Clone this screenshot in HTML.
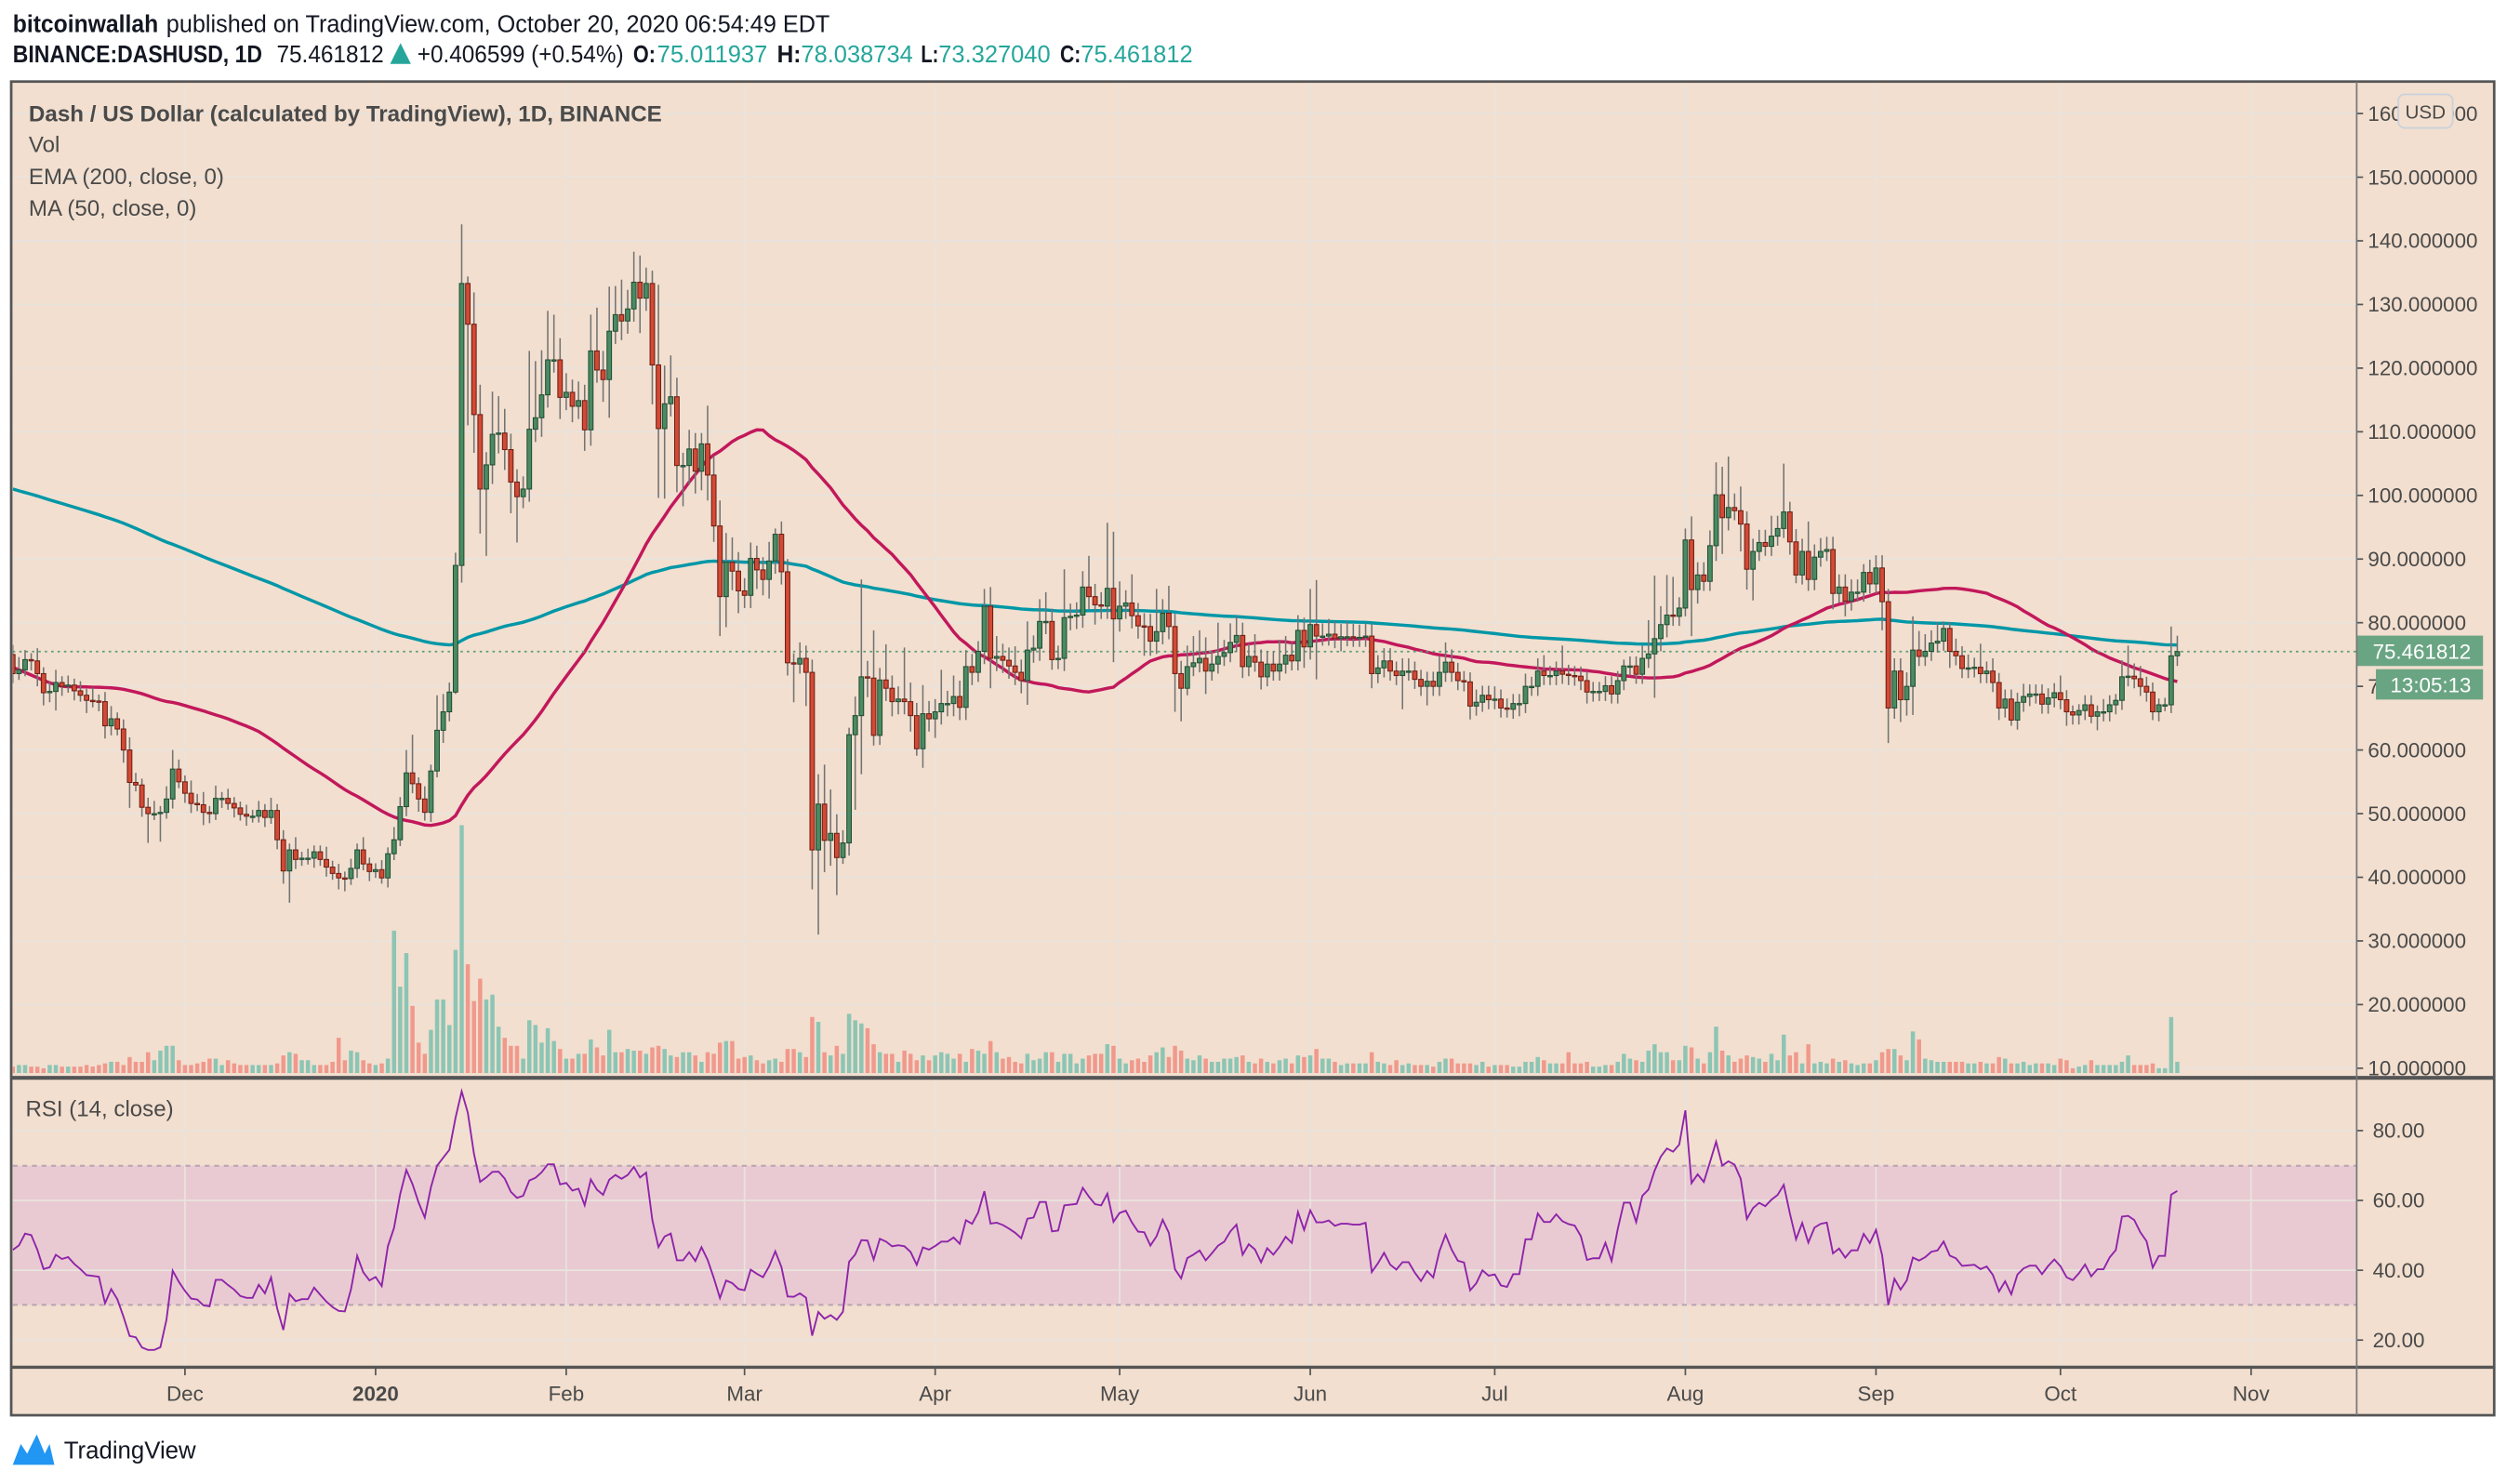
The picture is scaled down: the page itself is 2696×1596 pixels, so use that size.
<!DOCTYPE html>
<html><head><meta charset="utf-8"><title>DASHUSD chart</title>
<style>
html,body{margin:0;padding:0;background:#fff;}
svg{display:block;font-family:"Liberation Sans",sans-serif;}
</style></head>
<body>
<svg id="chart" xmlns="http://www.w3.org/2000/svg" width="2696" height="1596" viewBox="0 0 1568 928" preserveAspectRatio="none">
  <defs>
    <clipPath id="pricePane"><rect x="8" y="52" width="1466" height="621"/></clipPath>
    <clipPath id="rsiPane"><rect x="8" y="676" width="1466" height="178"/></clipPath>
  </defs>
  <rect x="0" y="0" width="1568" height="928" fill="#ffffff"/>
  <g>
    <text x="8" y="20" font-size="15" fill="#131722"><tspan font-weight="bold" textLength="91" lengthAdjust="spacingAndGlyphs">bitcoinwallah</tspan><tspan x="104" textLength="415" lengthAdjust="spacingAndGlyphs">published on TradingView.com, October 20, 2020 06:54:49 EDT</tspan></text>
    <g font-size="15">
      <text x="8" y="39" font-weight="bold" fill="#131722" textLength="156" lengthAdjust="spacingAndGlyphs">BINANCE:DASHUSD, 1D</text>
      <text x="173" y="39" fill="#131722" textLength="67" lengthAdjust="spacingAndGlyphs">75.461812</text>
      <polygon points="244,40 250.5,27 257,40" fill="#26a69a"/>
      <text x="261" y="39" fill="#131722" textLength="129" lengthAdjust="spacingAndGlyphs">+0.406599 (+0.54%)</text>
      <text x="396" y="39" font-weight="bold" fill="#131722" textLength="14" lengthAdjust="spacingAndGlyphs">O:</text>
      <text x="411" y="39" fill="#26a69a" textLength="69" lengthAdjust="spacingAndGlyphs">75.011937</text>
      <text x="486" y="39" font-weight="bold" fill="#131722" textLength="15" lengthAdjust="spacingAndGlyphs">H:</text>
      <text x="501" y="39" fill="#26a69a" textLength="70" lengthAdjust="spacingAndGlyphs">78.038734</text>
      <text x="576" y="39" font-weight="bold" fill="#131722" textLength="11" lengthAdjust="spacingAndGlyphs">L:</text>
      <text x="587" y="39" fill="#26a69a" textLength="70" lengthAdjust="spacingAndGlyphs">73.327040</text>
      <text x="663" y="39" font-weight="bold" fill="#131722" textLength="13" lengthAdjust="spacingAndGlyphs">C:</text>
      <text x="676" y="39" fill="#26a69a" textLength="70" lengthAdjust="spacingAndGlyphs">75.461812</text>
    </g>
  </g>
  <rect x="7" y="51" width="1553" height="834" fill="#f2dfcf"/>
  <rect x="8" y="729" width="1466" height="87" fill="#e9cad2"/>
  <g id="grid"></g>
  <line x1="8" y1="729" x2="1474" y2="729" stroke="#b9a2b2" stroke-width="1.2" stroke-dasharray="3,3"/>
  <line x1="8" y1="816" x2="1474" y2="816" stroke="#b9a2b2" stroke-width="1.2" stroke-dasharray="3,3"/>
  <g id="volume" clip-path="url(#pricePane)"></g>
  <g id="lines" clip-path="url(#pricePane)"></g>
  <g id="candles" clip-path="url(#pricePane)"></g>
  <g id="rsi" clip-path="url(#rsiPane)"></g>
  <g id="axes"></g>
  <g fill="#4a4a4a">
    <text x="18" y="76" font-size="14" font-weight="bold" textLength="396" lengthAdjust="spacingAndGlyphs">Dash / US Dollar (calculated by TradingView), 1D, BINANCE</text>
    <text x="18" y="95" font-size="14">Vol</text>
    <text x="18" y="115" font-size="14">EMA (200, close, 0)</text>
    <text x="18" y="135" font-size="14">MA (50, close, 0)</text>
    <text x="16" y="698" font-size="14">RSI (14, close)</text>
  </g>
  <g>
    <rect x="7" y="51" width="1553" height="834" fill="none" stroke="#555" stroke-width="1.6"/>
    <line x1="7" y1="674" x2="1560" y2="674" stroke="#555" stroke-width="2.4"/>
    <line x1="7" y1="855" x2="1560" y2="855" stroke="#555" stroke-width="2"/>
    <line x1="1474" y1="51" x2="1474" y2="885" stroke="#777" stroke-width="1"/>
  </g>
  <g>
    <path d="M8,916 L13,903 L17,909 L23,897 L28,909 L31,903 L34,916 Z" fill="#2196f3"/>
    <text x="40" y="912" font-size="15" fill="#131722">TradingView</text>
  </g>
</svg>
<script>
const preCloses = [92,94,95,93,90,88,86,82,74,70,68,69,70,68,66,67,68,67,66,65,64,66,67,66,65,64,66,67,66,65,64,66,68,67,68,70,69,68,70,73,80,82,79,77,78,76,77,76,75];
const closes = [
72,72.6,74.2,74,72,69,69.2,70.6,70,70.2,
69.3,68.6,67.8,67.7,67.6,63.8,64.9,63.3,60,54.9,
54.5,51,50,50,50.2,52.3,57,55,53.2,51.6,
51.4,50.2,50,52.4,52.4,51.6,50.9,49.9,49.6,49.6,
50.5,49.4,50.5,45.9,41,44.3,42.8,43,43,44,
42.8,41.6,40.6,39.9,39.8,41.4,44.3,42.1,40.9,41.2,
39.9,43.7,45.9,51.1,56.4,54.7,52.3,50.2,56.7,63.1,
66,69.1,89,133.3,126.9,112.7,101,104.8,109.6,109.8,
107.2,102.1,99.8,101,110.4,112.2,115.8,121.3,121.3,115.4,
116.2,114,114.9,110.3,122.7,119.7,118.2,125.8,128.4,127.4,
129.3,133.5,131,133.3,120.5,110.5,114.4,115.5,104.7,104.7,
107.3,103.8,108.1,103.2,95.2,84.1,89.5,88.1,85,84.3,
90.1,88.3,86.8,89.7,93.9,88,73.7,73.5,74.4,72.2,
44.3,51.5,45.8,46.9,43.1,45.4,62.4,65.4,71.5,71.3,
62.3,71,69.7,67.6,68,67.6,65.4,60.2,65.7,64.9,
66,67.3,67.3,68.4,66.7,73.1,72.2,75.5,82.6,74.4,
74.7,74.1,73.2,72.2,70.9,75.7,76,80.2,80.2,74.2,
74.4,80.8,81,81.2,85.6,84.1,82.8,82.6,85.4,80.6,
82.6,83.1,81.1,79.5,79.4,77.1,78.6,81.5,79.4,72,
69.7,73.1,73.7,74.4,72.4,73.5,74.7,75.3,76.9,78,
73.1,74.7,73.8,71.5,73.5,72.4,73.5,74.9,74,78.8,
76.2,79.7,77.9,77.9,78.2,77.5,77.8,77.8,77.7,77.7,
77.9,72,72.9,74,72.4,71.7,72.4,72.4,71.1,70,
70.8,70,72.2,73.8,72.2,70.9,70.7,66.9,67.5,68.6,
67.9,68,66.6,66.4,67.3,67.3,70,70,72.4,71.7,
71.7,72.4,71.9,71.7,71.6,70.9,69.1,69.2,69.2,70.1,
68.8,70.9,73.2,73.2,71.9,74.4,75.1,77.5,79.7,81.2,
81,82.3,93,85.2,87.5,86.5,92.1,100.1,96.5,98.1,
97.6,95.5,88.4,91.2,92.6,92,93.6,94.8,97.4,92.7,
87.5,91.2,86.8,90.3,91.2,91.5,84.6,85.6,83.4,84.8,
84.8,87.9,86.1,88.6,83.3,66.6,72.4,67.9,70,75.7,
74.7,75.5,76.8,77.1,79.1,75.5,74.8,72.8,72.9,73,
72,72.4,70.6,66.6,68,64.7,67.5,68.4,68.8,68.8,
67.2,68.2,69,67.9,66,65.5,66.2,67.1,65.3,66,
66,67.1,67.8,71.5,71.6,71.2,70,69.1,66,67.1,
67.1,74.8,75.46];
const upperWick = [
1.5,2,1.5,1,2,1,1.5,2,1,1.5,
1,1.5,1,2,1,1.5,2,1,1.5,2,
1.5,1,1.5,2,1,2,3,1.5,1,2,
1.5,2,1,2,1,1.5,1,1,1.5,1,
1.5,1,2,1,1.5,1,2,1,1.5,1,
1,2,1,1.5,1,1.5,1,2,1,1,
1.5,1,2,1.5,3.6,6,1,2,1,5.5,
2.8,1.5,2,9.3,1.1,5,4.7,2,6.7,5.8,
3.8,2.5,2,2,12.3,8.9,7,7.7,7.1,3.4,
3,2,3,2.5,5.7,6.8,3,7,4.5,5.5,
3,4.8,4.2,2.5,2,12.6,6,6.5,3,2,
3,2.5,1.7,6,3,4,4.6,3.9,3,2,
2.5,2,2,3,0.9,2,2,1.5,2.5,2,
2,4.7,6.2,6.9,3,2,1.1,3,15.3,2.5,
7.5,1.9,5.6,2,2,8.1,3,2,4.5,2,
2,5.3,2,3.3,2.5,2.6,2,1.6,2.7,3,
3.2,2,2,3.1,2,4.5,2,3.5,4.6,2,
2,7.6,2,2,2.5,4.9,2,2,10.3,8.9,
3.9,2,4.5,2,2,2,6.7,2.2,4.3,2,
2,3.3,4.2,4.4,3.3,2,5.3,2,3,3,
2,2,3.5,2,2,2,3.8,3,2,2.4,
2,5.6,7,2,2.4,2,2,2.4,2,2,
2,2,2,2,2,1.5,2,2,1.5,1.5,
1.5,1.5,2.6,3.1,2,1.5,1.5,1.5,2,1.5,
1.5,2,1.5,1.5,1.5,1.5,2,1.5,2,2.5,
1.5,1.5,4,1.5,1.5,1.5,1.5,1.5,1.5,1.5,
1.5,1.5,1,1.5,1.5,2,5.3,9.9,2.9,6.3,
6,1.7,1.8,3.7,2,2,2.4,5.1,4.4,8,
2.2,3.8,2,2,2,2,3.2,2,7.6,1.6,
2,2,4.7,2,2.1,2,2,2,2,2,
2,1.3,2,2,2,2,2,2,2.2,5.3,
3,2.7,2,2.9,1.1,1,2,1.5,2.1,1.5,
3.7,1.5,2,1.5,1.5,1.5,1.5,2,1.5,1.5,
1.5,1.5,1.5,2.7,1.5,1,1,1.5,1.5,1,
2,1.5,1,2.6,4.8,2,2,1.5,1.5,1,
1.1,4.6,2.5];
const lowerWick = [
1.5,1,1,1.5,2,2,1.5,3,1.5,1,
1.5,1,2,1,1.5,2,1.5,1,2,4,
1,1.5,4.6,1,4.4,1,1.5,1,1.5,1.5,
1,2,1.5,1,1.5,1,1.5,1,1.5,1,
1,1.5,1,1.5,2,5,1.5,1,1,1.5,
1,1.5,1,1.8,2,1,1.5,1,1.5,1,
0.9,1.5,1,1,1.5,1.5,2,1.3,1.5,1,
2,1.5,0.3,2.7,15.9,6,7,10.5,3,3,
3.2,4.9,7.2,1.8,2,2,3,2,2,3.4,
2,2.5,2,3.3,2.5,2,3.5,6,2,3,
2,2,5.5,2,6.2,10.9,11,2,4.2,6.4,
3,3.5,3,4,2.5,6.2,4.8,3,3.5,2,
2,3,2.5,3,2,2,2,6,1.5,5.3,
6.2,13.3,5,4,5.9,1,2,11.8,9.2,3,
1.6,1.5,2,2.3,2,2,2.5,1.1,3,2,
3,2,2,2,2,2,2,1.5,2,4.7,
2,2,2,2,2,3.8,2,2,2,1.6,
1.5,2,2,2,2,2,3.1,2,2,6.8,
2,2,2,2,4.6,2.3,2,2,2,6,
5.2,1.1,1.5,1.5,3.6,1.5,1.5,1.5,1.5,1.5,
1.8,1.5,1.5,2,1.5,1.5,1.5,1.5,1.5,1.5,
3.3,2,6.8,1.5,1.5,1.5,2,1.5,1.5,1.5,
1.5,2.3,1.5,1.5,1.5,1.5,5.3,1.5,1.5,1.5,
3,1.5,1.5,1.5,1.5,1.5,1.5,2.1,1.5,1.5,
1.5,1.5,1.5,1.3,1.5,2,1.5,1.5,1.5,1.5,
1.5,1.5,1.5,1.5,1.5,1.5,1.8,1.5,1.5,1.5,
1.5,1.5,1.5,1.5,1.5,1.5,1.5,6.9,2,2,
1.5,1.5,1.3,7.3,2.2,1.5,1.5,2.4,5.7,2,
1.5,4.3,3.2,4.9,1.5,1.5,1.5,1.5,1.5,2,
1.3,1.5,1.8,1.7,1.5,1.5,2.5,1.5,2.4,1.5,
1.5,1.5,1.5,1.5,4.5,5.5,1.7,3.5,2.5,4.5,
1.5,1.5,1.5,1.5,1.5,2.6,1.5,1.5,1.5,1.5,
1.5,1.5,1.5,1.9,1.5,0.9,1.5,1.5,1.5,1.5,
1.5,1.5,1.5,1.5,2.2,1.5,1.5,1.5,1.1,2.2,
1.5,1.5,1.5,1.5,1.5,1.5,1.5,1.5,1.3,1.5,
1,1.3,1.6];
const volumes = [
4,5,5,4,4,3,5,5,4,4,
4,4,5,4,5,6,7,7,5,10,
7,7,13,8,14,17,17,8,5,5,
6,7,9,9,5,8,6,5,5,5,
5,5,5,6,11,13,12,8,8,5,
5,5,7,22,8,14,13,8,6,5,
6,9,89,54,75,42,19,12,27,46,
46,30,77,155,68,45,59,46,49,29,
22,17,17,9,33,30,19,28,20,15,
9,9,12,12,21,16,11,27,13,13,
15,14,14,12,16,17,15,11,10,13,
13,11,7,13,12,19,20,20,9,10,
11,8,6,8,9,7,15,15,13,10,
35,32,13,11,17,12,37,33,31,28,
18,13,12,12,7,14,12,8,11,8,
11,13,12,9,12,7,15,14,12,20,
13,9,10,7,6,12,8,9,13,13,
7,12,12,6,9,11,12,12,18,17,
9,6,8,9,7,11,13,16,10,17,
14,9,8,11,9,7,7,9,9,10,
11,7,6,9,7,6,8,9,6,11,
10,11,15,9,9,7,5,6,6,6,
6,13,7,6,5,8,5,6,5,5,
5,4,7,9,9,6,6,6,5,7,
4,5,5,5,4,4,7,7,10,8,
6,6,6,13,6,6,7,4,4,5,
5,7,12,9,8,7,14,18,13,13,
8,8,17,16,9,6,13,29,14,11,
7,9,11,10,9,7,12,8,24,11,
13,6,18,6,7,6,9,7,8,6,
5,6,6,8,13,15,15,11,8,26,
21,9,8,7,7,7,7,7,6,6,
7,6,6,10,9,6,6,7,5,6,
6,6,5,9,8,3,4,5,8,5,
5,5,5,7,11,5,5,5,6,3,
3,35,7];
const emaStart = 101;
const priceTicks = [160,150,140,130,120,110,100,90,80,70,60,50,40,30,20,10];
const rsiTicks = [80,60,40,20];
const monthLabels = ["Dec","2020","Feb","Mar","Apr","May","Jun","Jul","Aug","Sep","Oct","Nov"];
const monthDays = [28,59,90,119,150,180,211,241,272,303,333,364];
const lastPriceLabel = "75.461812";
const countdownLabel = "13:05:13";

const NS = "http://www.w3.org/2000/svg";
const xOf = i => 8 + i * 3.846;
const yP = p => 668 - (p - 10) * 3.98;
const yV = v => 671 - v;
const yR = r => 838 - (r - 20) * 2.1833;
function mk(tag, attrs, parent) {
  const el = document.createElementNS(NS, tag);
  for (const k in attrs) el.setAttribute(k, attrs[k]);
  parent.appendChild(el);
  return el;
}
const gGrid = document.getElementById('grid');
const gVol = document.getElementById('volume');
const gLines = document.getElementById('lines');
const gC = document.getElementById('candles');
const gR = document.getElementById('rsi');
const gAx = document.getElementById('axes');
const gridColor = "#e9e3de";

// grid
priceTicks.forEach(p => {
  const ln = mk('line', {x1: 8, x2: 1474, y1: yP(p), y2: yP(p), stroke: gridColor, 'stroke-width': 1}, gGrid);
  
  
});
rsiTicks.forEach(r => {
  const ln = mk('line', {x1: 8, x2: 1474, y1: yR(r), y2: yR(r), stroke: gridColor, 'stroke-width': 1}, gGrid);
  
  
});
monthDays.forEach(d => {
  const ln = mk('line', {x1: xOf(d), x2: xOf(d), y1: 52, y2: 854, stroke: gridColor, 'stroke-width': 1}, gGrid);
  
  
});

// opens
const opens = closes.map((c, i) => i === 0 ? preCloses[preCloses.length - 1] : closes[i - 1]);

// volume
volumes.forEach((v, i) => {
  const up = closes[i] >= opens[i];
  const r = mk('rect', {x: xOf(i) - 1.3, y: yV(v), width: 2.6, height: v, fill: up ? '#8cc5b4' : '#f0998c'}, gVol);
  
  
});

// EMA 200
const ema = [];
closes.forEach((c, i) => {
  const a = 2 / 201;
  ema.push(i === 0 ? emaStart : ema[i - 1] + a * (c - ema[i - 1]));
});
const all = preCloses.concat(closes);
const ma = closes.map((c, i) => {
  const k = preCloses.length + i;
  let s = 0;
  for (let j = k - 49; j <= k; j++) s += all[j];
  return s / 50;
});
const emaPath = mk('path', {d: ema.map((v, i) => (i ? 'L' : 'M') + xOf(i).toFixed(2) + ',' + yP(v).toFixed(2)).join(' '), fill: 'none', stroke: '#0097a7', 'stroke-width': 2}, gLines);


const maPath = mk('path', {d: ma.map((v, i) => (i ? 'L' : 'M') + xOf(i).toFixed(2) + ',' + yP(v).toFixed(2)).join(' '), fill: 'none', stroke: '#c2185b', 'stroke-width': 2}, gLines);



// last price line
const lastY = yP(closes[closes.length - 1]);
const pl = mk('line', {x1: 8, x2: 1474, y1: lastY, y2: lastY, stroke: '#5a9e78', 'stroke-width': 1, 'stroke-dasharray': '1.5,2.5'}, gLines);



// candles
closes.forEach((c, i) => {
  const o = opens[i];
  const up = c >= o;
  const top = Math.max(o, c), bot = Math.min(o, c);
  const hi = top + upperWick[i], lo = bot - lowerWick[i];
  const x = xOf(i);
  const w = mk('line', {x1: x, x2: x, y1: yP(hi), y2: yP(lo), stroke: '#737373', 'stroke-width': 0.9}, gC);
  
  
  const h = Math.max(yP(bot) - yP(top), 0.8);
  const b = mk('rect', {x: x - 1.4, y: yP(top), width: 2.8, height: h, fill: up ? '#4b8a62' : '#d24a35', stroke: up ? '#1f4d33' : '#6e1d14', 'stroke-width': 0.6}, gC);
  
  
});

// RSI (Wilder, 14)
const rsiAll = new Array(all.length).fill(null);
let ag = 0, al = 0;
for (let k = 1; k <= 14; k++) { const d = all[k] - all[k - 1]; if (d > 0) ag += d; else al -= d; }
ag /= 14; al /= 14;
rsiAll[14] = al === 0 ? 100 : 100 - 100 / (1 + ag / al);
for (let k = 15; k < all.length; k++) {
  const d = all[k] - all[k - 1];
  ag = (ag * 13 + (d > 0 ? d : 0)) / 14;
  al = (al * 13 + (d < 0 ? -d : 0)) / 14;
  rsiAll[k] = al === 0 ? 100 : 100 - 100 / (1 + ag / al);
}
const rsi = rsiAll.slice(preCloses.length);
const rsiPath = mk('path', {d: rsi.map((v, i) => (i ? 'L' : 'M') + xOf(i).toFixed(2) + ',' + yR(v).toFixed(2)).join(' '), fill: 'none', stroke: '#8e24aa', 'stroke-width': 1.1}, gR);



// price axis labels
priceTicks.forEach(p => {
  const t = mk('line', {x1: 1474, x2: 1478, y1: yP(p), y2: yP(p), stroke: '#555', 'stroke-width': 1}, gAx);
  
  
  const tx = mk('text', {x: 1481, y: yP(p) + 4.5, 'font-size': 13, fill: '#4a4a4a'}, gAx);
  tx.textContent = p.toFixed(6);
  
  
});
rsiTicks.forEach(r => {
  const t = mk('line', {x1: 1474, x2: 1478, y1: yR(r), y2: yR(r), stroke: '#555', 'stroke-width': 1}, gAx);
  
  
  const tx = mk('text', {x: 1484, y: yR(r) + 4.5, 'font-size': 13, fill: '#4a4a4a'}, gAx);
  tx.textContent = r.toFixed(2);
  
  
});
monthLabels.forEach((m, i) => {
  const x = xOf(monthDays[i]);
  const t = mk('line', {x1: x, x2: x, y1: 855, y2: 860, stroke: '#555', 'stroke-width': 1}, gAx);
  
  
  const tx = mk('text', {x: x, y: 876, 'font-size': 13, fill: '#4a4a4a', 'text-anchor': 'middle', 'font-weight': m === '2020' ? 'bold' : 'normal'}, gAx);
  tx.textContent = m;
  
  
});

// USD badge
const usd = mk('rect', {x: 1500, y: 59, width: 34, height: 21, rx: 4, fill: '#f2dfcf', stroke: '#c9d0dc', 'stroke-width': 1}, gAx);


const usdT = mk('text', {x: 1517, y: 74, 'font-size': 12, fill: '#4a4a4a', 'text-anchor': 'middle'}, gAx);
usdT.textContent = 'USD';



// last price + countdown labels
const lp = mk('rect', {x: 1474, y: lastY - 10, width: 79, height: 19, fill: '#6aa583'}, gAx);


const lpT = mk('text', {x: 1484, y: lastY + 4.5, 'font-size': 13, fill: '#ffffff'}, gAx);
lpT.textContent = lastPriceLabel;


const cd = mk('rect', {x: 1486, y: lastY + 11, width: 67, height: 19, fill: '#6aa583'}, gAx);


const cdT = mk('text', {x: 1495, y: lastY + 25.5, 'font-size': 13, fill: '#ffffff'}, gAx);
cdT.textContent = countdownLabel;


</script>
</body></html>
